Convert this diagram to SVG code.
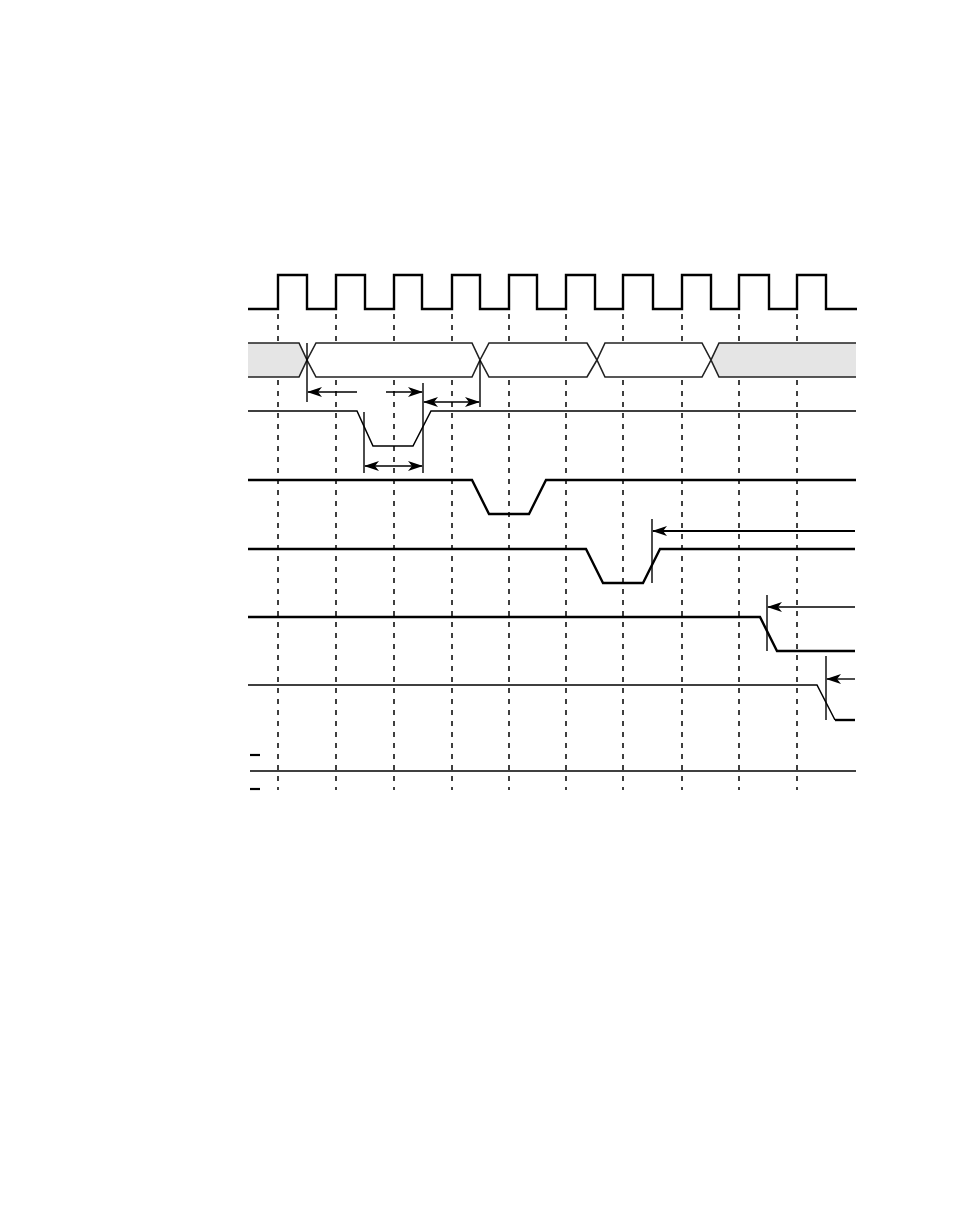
<svg xmlns="http://www.w3.org/2000/svg" width="954" height="1227" viewBox="0 0 954 1227">
<style>
.grid{stroke:#000;stroke-width:1.5;stroke-dasharray:5 6;fill:none}
.thick{stroke:#000;stroke-width:2.4;fill:none;stroke-linejoin:miter}
.thin{stroke:#000;stroke-width:1.5;fill:none}
.bus{stroke:#222;stroke-width:1.6;fill:#fff}
.mk{stroke:#000;stroke-width:1.4;fill:none}
</style>
<defs>
<marker id="ah" markerWidth="15" markerHeight="10" refX="14" refY="5" orient="auto-start-reverse" markerUnits="userSpaceOnUse">
<path d="M0,0 L15,5 L0,10 L4,5 Z" fill="#000"/>
</marker>
</defs>
<rect width="954" height="1227" fill="#fff"/>
<g id="grid">
<line class="grid" x1="278" y1="314" x2="278" y2="790"/>
<line class="grid" x1="336" y1="314" x2="336" y2="790"/>
<line class="grid" x1="394" y1="314" x2="394" y2="790"/>
<line class="grid" x1="452" y1="314" x2="452" y2="790"/>
<line class="grid" x1="509" y1="314" x2="509" y2="790"/>
<line class="grid" x1="566" y1="314" x2="566" y2="790"/>
<line class="grid" x1="623" y1="314" x2="623" y2="790"/>
<line class="grid" x1="682" y1="314" x2="682" y2="790"/>
<line class="grid" x1="739" y1="314" x2="739" y2="790"/>
<line class="grid" x1="797" y1="314" x2="797" y2="790"/>
</g>
<g id="clock">
<path class="thick" d="M248,309 H278 V275 H307 V309 H336 V275 H365 V309 H394 V275 H422 V309 H452 V275 H480 V309 H509 V275 H537 V309 H566 V275 H595 V309 H623 V275 H653 V309 H682 V275 H711 V309 H739 V275 H769 V309 H797 V275 H826 V309 H857"/>
</g>
<g id="bus">
<path d="M248,343 H299 L307,360 L299,377 H248 Z" fill="#e5e5e5"/>
<path class="bus" style="fill:none" d="M248,343 H299 L307,360 L299,377 H248"/>
<path class="bus" d="M307,360 L316,343 H472 L480,360 L472,377 H316 Z"/>
<path class="bus" d="M480,360 L489,343 H587 L597,360 L587,377 H489 Z"/>
<path class="bus" d="M597,360 L605,343 H702 L711,360 L702,377 H605 Z"/>
<path d="M711,360 L719,343 H856 V377 H719 Z" fill="#e5e5e5"/>
<path class="bus" style="fill:none" d="M856,343 H719 L711,360 L719,377 H856"/>
</g>
<g id="sig1">
<path class="thin" d="M248,411 H357 L373,446 H413 L431,411 H856"/>
</g>
<g id="sig2">
<path class="thick" d="M248,480 H472 L489,514 H529 L546,480 H856"/>
</g>
<g id="sig3">
<path class="thick" d="M248,549 H586 L603,583 H643 L660,549 H855"/>
</g>
<g id="sig4">
<path class="thick" d="M248,617 H760 L777,651 H855"/>
</g>
<g id="sig5">
<path class="thin" d="M248,685 H817 L835,720"/>
<path class="thick" d="M835,720 H855"/>
</g>
<g id="sig6">
<line class="thin" x1="250" y1="771" x2="856" y2="771"/>
<line x1="250" y1="755" x2="260" y2="755" stroke="#000" stroke-width="2.2"/>
<line x1="250" y1="789" x2="260" y2="789" stroke="#000" stroke-width="2.2"/>
</g>
<g id="connectors">
<line class="mk" x1="307" y1="343" x2="307" y2="402"/>
<line class="mk" x1="423" y1="383" x2="423" y2="473"/>
<line class="mk" x1="480" y1="360" x2="480" y2="407"/>
<line class="mk" x1="364" y1="412" x2="364" y2="473"/>
<line class="mk" x1="357" y1="392" x2="308" y2="392" marker-end="url(#ah)"/>
<line class="mk" x1="386" y1="392" x2="422" y2="392" marker-end="url(#ah)"/>
<line class="mk" x1="424" y1="402" x2="479" y2="402" marker-start="url(#ah)" marker-end="url(#ah)"/>
<line class="mk" x1="365" y1="466" x2="422" y2="466" marker-start="url(#ah)" marker-end="url(#ah)"/>
<line class="mk" x1="652" y1="519" x2="652" y2="583"/>
<line x1="855" y1="531" x2="653" y2="531" stroke="#000" stroke-width="2.2" marker-end="url(#ah)"/>
<line class="mk" x1="767" y1="595" x2="767" y2="651"/>
<line class="mk" x1="855" y1="607" x2="768" y2="607" marker-end="url(#ah)"/>
<line class="mk" x1="826" y1="656" x2="826" y2="720"/>
<line class="mk" x1="855" y1="679" x2="827" y2="679" marker-end="url(#ah)"/>
</g>
</svg>
